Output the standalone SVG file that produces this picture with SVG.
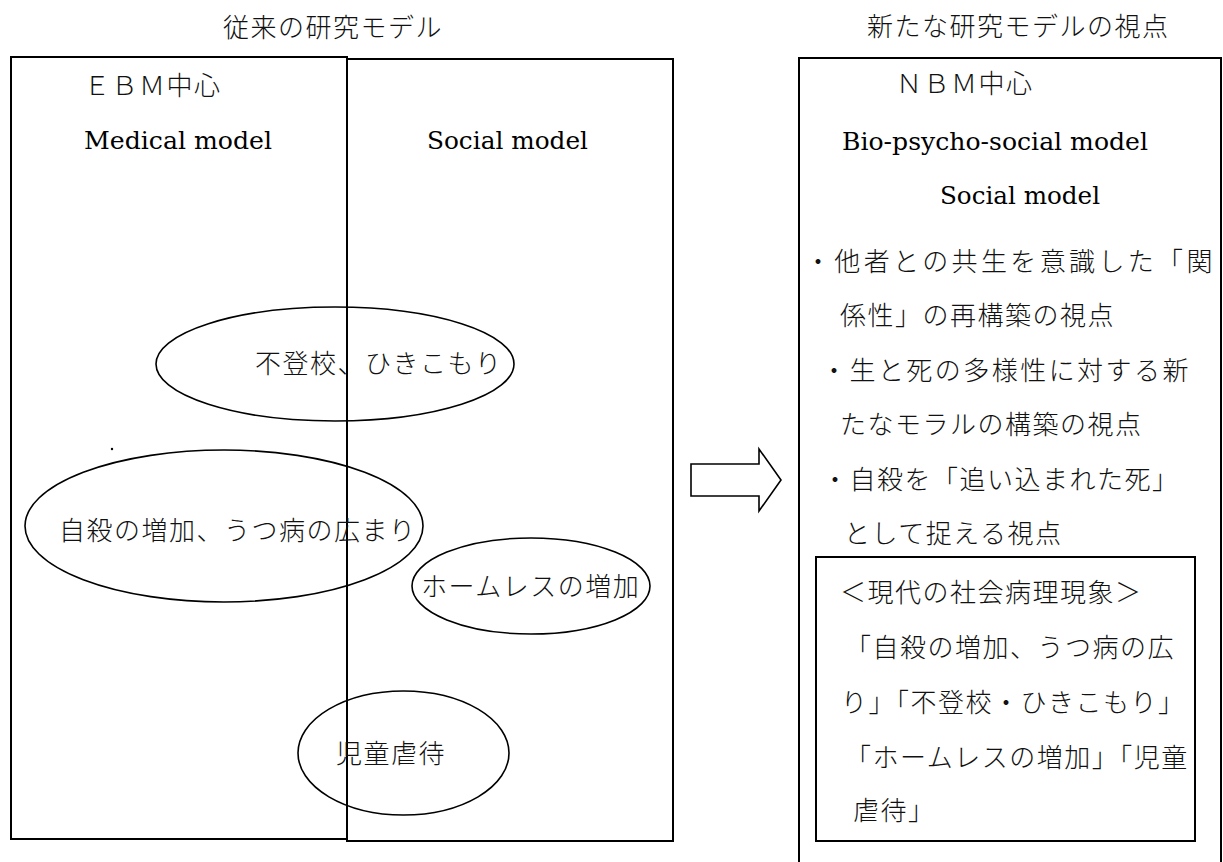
<svg xmlns="http://www.w3.org/2000/svg" width="1223" height="862" viewBox="0 0 1223 862">
<style>
.box{fill:none;stroke:#000;stroke-width:2}
.ell{fill:none;stroke:#000;stroke-width:1.6}
.jp{font-family:"Noto Sans CJK JP","Noto Sans CJK SC",sans-serif;font-size:26px;font-weight:300;letter-spacing:1.5px;fill:#111}
.en{font-family:"DejaVu Serif","Liberation Serif",serif;font-size:25px;fill:#000}
</style>
<rect width="1223" height="862" fill="#fff"/>
<g id="titles">
<text class="jp" x="223" y="37">従来の研究モデル</text>
<text class="jp" x="867" y="36">新たな研究モデルの視点</text>
</g>
<g id="medical-model">
<rect class="box" x="11" y="57" width="336" height="782"/>
<text class="jp" x="84" y="95">ＥＢＭ中心</text>
<text class="en" x="84" y="149" textLength="188" lengthAdjust="spacingAndGlyphs">Medical model</text>
</g>
<g id="social-model">
<rect class="box" x="347" y="59" width="326" height="782"/>
<text class="en" x="427" y="149" textLength="161" lengthAdjust="spacingAndGlyphs">Social model</text>
</g>
<g id="futoko">
<ellipse class="ell" cx="335" cy="364" rx="179" ry="57"/>
<text class="jp" x="255" y="373">不登校、ひきこもり</text>
</g>
<g id="jisatsu">
<ellipse class="ell" cx="224" cy="526" rx="199" ry="76"/>
<text class="jp" x="59" y="540">自殺の増加、うつ病の広まり</text>
</g>
<g id="homeless">
<ellipse class="ell" cx="531" cy="586" rx="119" ry="48"/>
<text class="jp" x="421" y="596">ホームレスの増加</text>
</g>
<g id="gyakutai">
<ellipse class="ell" cx="403.5" cy="753" rx="105.5" ry="62"/>
<text class="jp" x="336" y="763">児童虐待</text>
</g>
<circle cx="112" cy="449" r="1.2" fill="#000"/>
<g id="connectors">
<polygon points="691,464 759,464 759,449 781,480 759,511 759,496 691,496" fill="#fff" stroke="#000" stroke-width="1.6"/>
</g>
<g id="new-model">
<rect class="box" x="799" y="58" width="422" height="830"/>
<text class="jp" x="896" y="93">ＮＢＭ中心</text>
<text class="en" x="842" y="150" textLength="306" lengthAdjust="spacingAndGlyphs">Bio-psycho-social model</text>
<text class="en" x="940" y="204" textLength="160" lengthAdjust="spacingAndGlyphs">Social model</text>
<text class="jp" x="805" y="271" textLength="409" lengthAdjust="spacing">・他者との共生を意識した「関</text>
<text class="jp" x="840" y="325">係性」の再構築の視点</text>
<text class="jp" x="821" y="380" textLength="369" lengthAdjust="spacing">・生と死の多様性に対する新</text>
<text class="jp" x="840" y="434">たなモラルの構築の視点</text>
<text class="jp" x="822" y="489">・自殺を「追い込まれた死」</text>
<text class="jp" x="844" y="543">として捉える視点</text>
</g>
<g id="phenomena">
<rect class="box" x="816" y="557" width="379" height="284"/>
<text class="jp" x="840" y="602">＜現代の社会病理現象＞</text>
<text class="jp" x="845" y="657">「自殺の増加、うつ病の広</text>
<text class="jp" x="841" y="712">り」「不登校・ひきこもり」</text>
<text class="jp" x="845" y="767">「ホームレスの増加」「児童</text>
<text class="jp" x="853" y="820">虐待」</text>
</g>
</svg>
